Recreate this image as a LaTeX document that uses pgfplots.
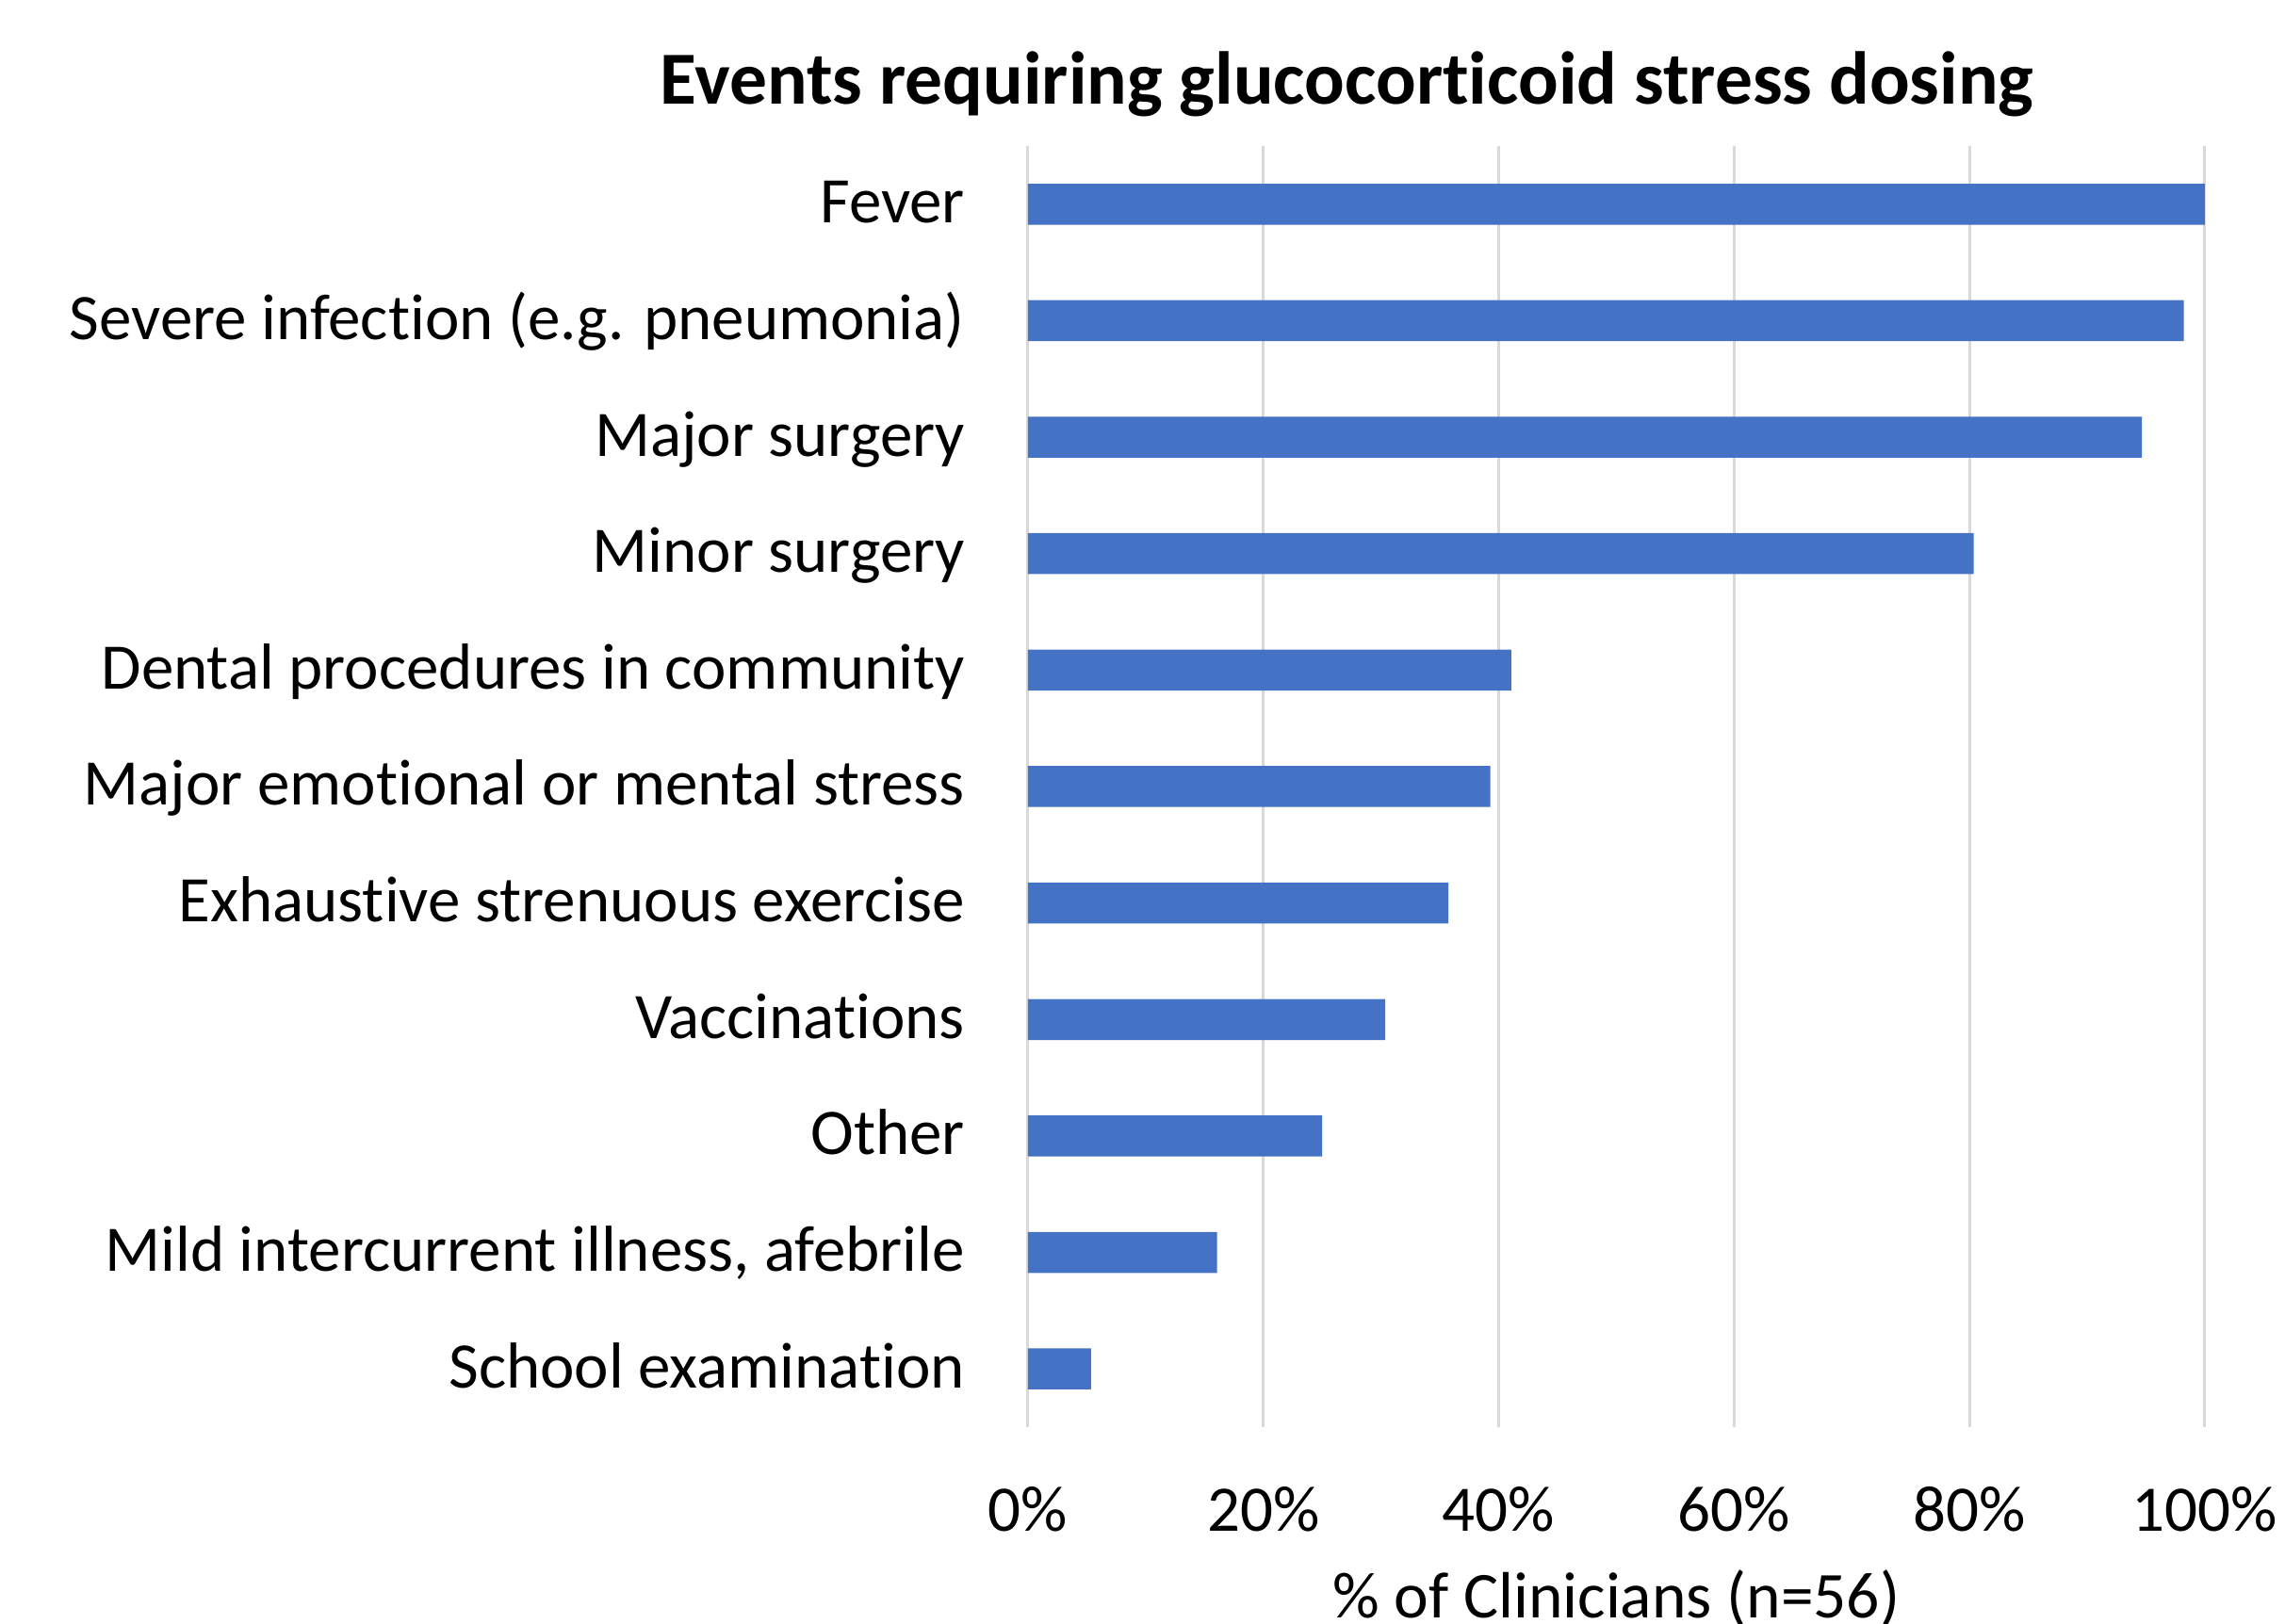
\documentclass[border=0pt]{standalone}
\usepackage{pgfplots}
\pgfplotsset{compat=1.18}
\usepackage{fontspec}
\setmainfont{Carlito}[Ligatures={NoCommon}]
\definecolor{barblue}{HTML}{4472C4}
\definecolor{gridgray}{HTML}{D9D9D9}
\begin{document}
\begin{tikzpicture}
\begin{axis}[
  name=ax,
  xbar,
  scale only axis,
  width=249.8pt, height=272pt,
  xmin=0, xmax=100, ymin=-0.5, ymax=10.5,
  xtick={0,20,40,60,80,100},
  xticklabels={0\%,20\%,40\%,60\%,80\%,100\%},
  ytick={0,1,2,3,4,5,6,7,8,9,10},
  yticklabels={School examination,{Mild intercurrent illness, afebrile},Other,Vaccinations,Exhaustive strenuous exercise,Major emotional or mental stress,Dental procedures in community,Minor surgery,Major surgery,Severe infection (e.g. pneumonia),Fever},
  axis line style={draw=none},
  major tick length=0pt,
  xmajorgrids,
  major grid style={gridgray, line width=0.6pt},
  bar width=8.7pt,
  tick label style={font=\fontsize{13.8}{16}\selectfont},
  yticklabel style={anchor=base east, inner sep=0pt, xshift=-13.2pt, yshift=-4pt},
  xticklabel style={anchor=base, inner sep=0pt, yshift=-22.2pt},
  xlabel={\% of Clinicians (n=56)},
  xlabel style={font=\fontsize{13.9}{16}\selectfont, at={(axis description cs:0.5,0)}, anchor=base, inner sep=0pt, yshift=-40.6pt},
  title={Events requiring glucocorticoid stress dosing},
  title style={font=\fontsize{15.9}{18}\selectfont\bfseries, at={(axis description cs:0.271,1)}, anchor=base, inner sep=0pt, yshift=2.8pt},
]
\addplot[fill=barblue, draw=none] coordinates {
  (5.36,0) (16.07,1) (25,2) (30.36,3) (35.71,4) (39.29,5) (41.07,6) (80.36,7) (94.64,8) (98.21,9) (100,10)
};
\end{axis}
\path (ax.south west) ++(-218.2pt,-41.8pt) coordinate (bl);
\path (ax.north east) ++(17pt,31pt) coordinate (tr);
\pgfresetboundingbox
\path (bl) rectangle (tr);
\end{tikzpicture}
\end{document}
